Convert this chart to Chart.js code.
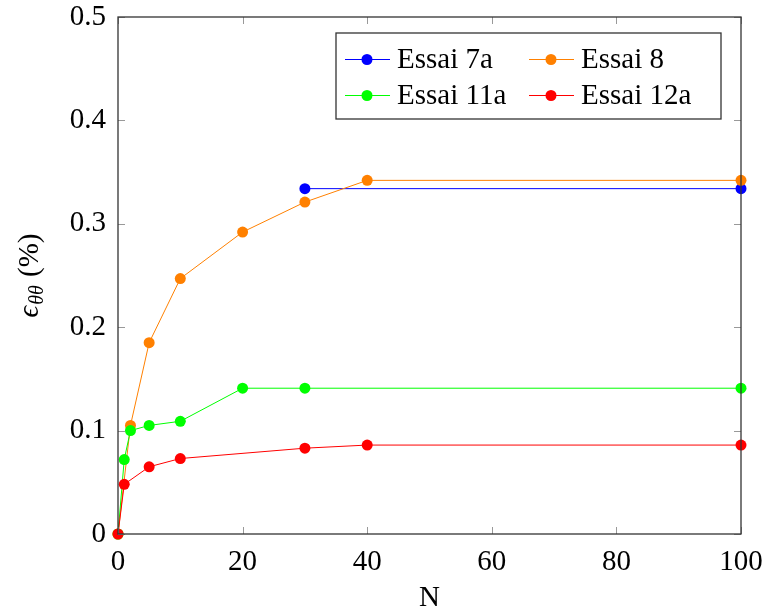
<!DOCTYPE html>
<html lang="fr">
<head>
<meta charset="UTF-8">
<title>Essais - deformation</title>
<script src="https://cdn.jsdelivr.net/npm/chart.js@4.4.1/dist/chart.umd.min.js"></script>
<style>
    html, body { margin: 0; padding: 0; background: #fff; }
    #wrap { width: 764px; height: 612px; }
</style>
</head>
<body>
<div id="wrap"><canvas id="chart" width="764" height="612"></canvas></div>
<script>
// data
const labels = ['Essai 7a', 'Essai 8', 'Essai 11a', 'Essai 12a'];
const colors = ['#0000ff', '#ff8000', '#00ff00', '#ff0000'];

const n7a = [30, 100];
const eps7a = [0.334, 0.334];

const n8 = [0, 2, 5, 10, 20, 30, 40, 100];
const eps8 = [0, 0.105, 0.185, 0.247, 0.292, 0.321, 0.342, 0.342];

const n11a = [0, 1, 2, 5, 10, 20, 30, 100];
const eps11a = [0, 0.072, 0.100, 0.105, 0.109, 0.141, 0.141, 0.141];

const n12a = [0, 1, 5, 10, 30, 40, 100];
const eps12a = [0, 0.048, 0.065, 0.073, 0.083, 0.086, 0.086];

const xTicks = [0, 20, 40, 60, 80, 100];
const yTicks = [0, 0.1, 0.2, 0.3, 0.4, 0.5];

const FONT = '"Liberation Serif", "DejaVu Serif", serif';

function pts(xs, ys) {
    return xs.map((x, i) => ({ x: x, y: ys[i] }));
}

const series = [[n7a, eps7a], [n8, eps8], [n11a, eps11a], [n12a, eps12a]];

// frame, inward ticks, y title and legend box
const decor = {
    id: 'decor',
    afterDraw(chart) {
        const ctx = chart.ctx;
        const a = chart.chartArea;
        const sx = chart.scales.x, sy = chart.scales.y;
        ctx.save();

        // inward tick marks
        ctx.strokeStyle = '#999';
        ctx.lineWidth = 1;
        ctx.beginPath();
        xTicks.forEach(v => {
            const px = Math.round(sx.getPixelForValue(v)) + 0.5;
            ctx.moveTo(px, a.bottom); ctx.lineTo(px, a.bottom - 7);
            ctx.moveTo(px, a.top); ctx.lineTo(px, a.top + 7);
        });
        yTicks.forEach(v => {
            const py = Math.round(sy.getPixelForValue(v)) + 0.5;
            ctx.moveTo(a.left, py); ctx.lineTo(a.left + 7, py);
            ctx.moveTo(a.right, py); ctx.lineTo(a.right - 7, py);
        });
        ctx.stroke();

        // frame
        ctx.strokeStyle = '#333';
        ctx.lineWidth = 1.3;
        ctx.strokeRect(a.left, a.top, a.right - a.left, a.bottom - a.top);

        // y axis title: eps_{theta theta} (%)
        ctx.translate(38, (a.top + a.bottom) / 2);
        ctx.rotate(-Math.PI / 2);
        ctx.fillStyle = '#000';
        ctx.textBaseline = 'alphabetic';
        const p1 = 'ϵ', p2 = 'θθ', p3 = ' (%)';
        ctx.font = 'italic 29px ' + FONT;
        const w1 = ctx.measureText(p1).width;
        ctx.font = 'italic 20px ' + FONT;
        const w2 = ctx.measureText(p2).width;
        ctx.font = '29px ' + FONT;
        const w3 = ctx.measureText(p3).width;
        let x0 = -(w1 + w2 + w3 + 2) / 2;
        ctx.font = 'italic 29px ' + FONT;
        ctx.fillText(p1, x0, 0);
        ctx.font = 'italic 20px ' + FONT;
        ctx.fillText(p2, x0 + w1 + 1, 5);
        ctx.font = '29px ' + FONT;
        ctx.fillText(p3, x0 + w1 + w2 + 2, 0);
        ctx.restore();

        // legend
        ctx.save();
        const bx = 336, by = 33, bw = 385, bh = 86;
        ctx.fillStyle = '#fff';
        ctx.fillRect(bx, by, bw, bh);
        ctx.strokeStyle = '#333';
        ctx.lineWidth = 1.3;
        ctx.strokeRect(bx, by, bw, bh);
        const colX = [345, 529];
        const rowY = [59, 95];
        ctx.font = '29px ' + FONT;
        ctx.textBaseline = 'middle';
        chart.data.datasets.forEach((ds, i) => {
            const cx = colX[i % 2], cy = rowY[Math.floor(i / 2)];
            ctx.strokeStyle = ds.borderColor;
            ctx.lineWidth = 1;
            ctx.beginPath();
            ctx.moveTo(cx, cy + 0.5); ctx.lineTo(cx + 45, cy + 0.5);
            ctx.stroke();
            ctx.fillStyle = ds.backgroundColor;
            ctx.beginPath();
            ctx.arc(cx + 22, cy + 0.5, 5.5, 0, Math.PI * 2);
            ctx.fill();
            ctx.fillStyle = '#000';
            ctx.fillText(ds.label, cx + 52, cy + 1);
        });
        ctx.restore();
    }
};

new Chart(document.getElementById('chart'), {
    type: 'line',
    data: {
        datasets: series.map((s, i) => ({
            label: labels[i],
            data: pts(s[0], s[1]),
            borderColor: colors[i],
            backgroundColor: colors[i],
            borderWidth: 1,
            pointRadius: 5.5,
            pointBorderWidth: 0,
            pointBackgroundColor: colors[i],
            tension: 0,
            clip: false,
            order: 3 - i
        }))
    },
    options: {
        responsive: false,
        animation: false,
        layout: { padding: { left: 0, right: 23, top: 17, bottom: 0 } },
        plugins: {
            legend: { display: false },
            tooltip: { enabled: false }
        },
        scales: {
            x: {
                type: 'linear',
                min: 0,
                max: 100,
                afterFit: s => {
                    s.height = 78;
                    s.paddingLeft = 0; s.paddingRight = 0;
                },
                afterBuildTicks: s => { s.ticks = xTicks.map(v => ({ value: v })); },
                grid: { display: false, drawTicks: false },
                border: { display: false },
                ticks: {
                    color: '#000',
                    padding: 11,
                    maxRotation: 0,
                    font: { family: FONT, size: 29 },
                    callback: v => String(v)
                },
                title: {
                    display: true,
                    text: 'N',
                    color: '#000',
                    padding: { top: 0, bottom: 0 },
                    font: { family: FONT, size: 29, lineHeight: 0.95 }
                }
            },
            y: {
                type: 'linear',
                min: 0,
                max: 0.5,
                afterFit: s => {
                    s.width = 118;
                    s.paddingTop = 0; s.paddingBottom = 0;
                },
                afterBuildTicks: s => { s.ticks = yTicks.map(v => ({ value: v })); },
                grid: { display: false, drawTicks: false },
                border: { display: false },
                ticks: {
                    color: '#000',
                    padding: 12,
                    font: { family: FONT, size: 29 },
                    callback: v => String(+v.toFixed(1))
                }
            }
        }
    },
    plugins: [decor]
});
</script>
</body>
</html>
